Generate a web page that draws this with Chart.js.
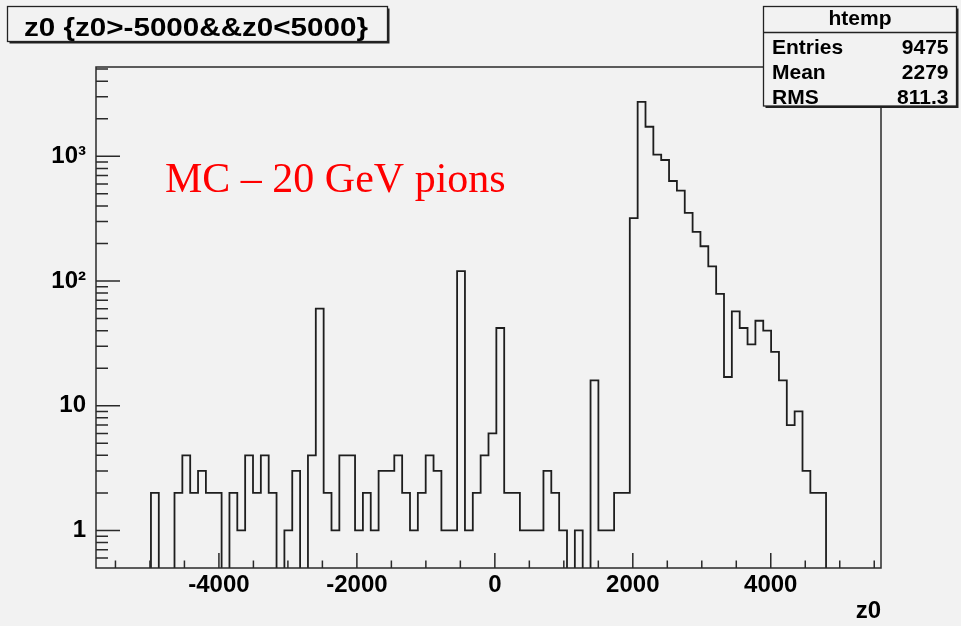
<!DOCTYPE html>
<html lang="en">
<head>
<meta charset="UTF-8">
<title>z0</title>
<script src="https://cdn.jsdelivr.net/npm/chart.js"></script>
<style>
  html, body { margin: 0; padding: 0; background: #f2f2f2; }
  canvas { display: block; }
</style>
</head>
<body>
<canvas id="histo" width="961" height="626"></canvas>
<script>
// htemp: z0 histogram, 100 bins (counts)
const xLow = -5782;
const binWidth = 113.8;
const nBins = 100;
const counts = [
  0, 0, 0, 0, 0, 0, 0, 2, 0, 0,
  2, 4, 2, 3, 2, 2, 0, 2, 1, 4,
  2, 4, 2, 0, 1, 3, 0, 4, 60, 2,
  1, 4, 4, 1, 2, 1, 3, 3, 4, 2,
  1, 2, 4, 3, 1, 1, 120, 1, 2, 4,
  6, 42, 2, 2, 1, 1, 1, 3, 2, 1,
  0, 1, 0, 16, 1, 1, 2, 2, 319, 2734,
  1725, 1030, 934, 634, 530, 352, 248, 190, 131, 79,
  17, 57, 42, 31, 48, 40, 27, 16, 7, 9,
  3, 2, 2, 0, 0, 0, 0, 0, 0, 0
];
const xLabelTicks = [-4000, -2000, 0, 2000, 4000];
const yLabels = { 1: '1', 10: '10', 100: '10²', 1000: '10³' };
const yMin = 0.5;
const yMax = 5200;

const titleText = 'z0 {z0>-5000&&z0<5000}';
const statsTitle = 'htemp';
const statsNames = ['Entries', 'Mean', 'RMS'];
const statsValues = ['9475', '2279', '811.3'];
const noteText = 'MC \u2013 20 GeV pions';

const bg = '#f2f2f2';
const sans = "'Liberation Sans', Arial, Helvetica, sans-serif";

// left edge of each bin + closing point, empty bins pushed below the axis
const points = counts.map((c, i) => ({ x: xLow + i * binWidth, y: c > 0 ? c : 1e-3 }));
points.push({ x: xLow + nBins * binWidth, y: 1e-3 });

function shadowBox(ctx, x, y, w, h) {
  ctx.fillStyle = '#222';
  ctx.fillRect(x + 2, y + 2, w, h);
  ctx.fillStyle = bg;
  ctx.fillRect(x, y, w, h);
  ctx.strokeStyle = '#222';
  ctx.lineWidth = 1.3;
  ctx.strokeRect(x, y, w, h);
}

const rootFrame = {
  id: 'rootFrame',
  afterDatasetsDraw(chart) {
    const { ctx, chartArea: a, scales: { x, y } } = chart;
    ctx.save();
    ctx.strokeStyle = '#2a2a2a';
    ctx.lineWidth = 1.5;
    ctx.strokeRect(a.left, a.top, a.right - a.left, a.bottom - a.top);
    ctx.beginPath();
    y.ticks.forEach(t => {
      const py = y.getPixelForValue(t.value);
      if (py < a.top + 1 || py > a.bottom - 1) return;
      const len = yLabels[t.value] !== undefined ? 24 : 12;
      ctx.moveTo(a.left, py);
      ctx.lineTo(a.left + len, py);
    });
    x.ticks.forEach(t => {
      const px = x.getPixelForValue(t.value);
      if (px < a.left + 1 || px > a.right - 1) return;
      const len = t.value % 2000 === 0 ? 15 : 7.5;
      ctx.moveTo(px, a.bottom);
      ctx.lineTo(px, a.bottom - len);
    });
    ctx.stroke();
    ctx.restore();
  },
  afterDraw(chart) {
    const ctx = chart.ctx;
    ctx.save();
    // title box
    shadowBox(ctx, 7.5, 6.5, 380, 35);
    ctx.fillStyle = '#000';
    ctx.font = 'bold 26px ' + sans;
    ctx.textBaseline = 'alphabetic';
    ctx.textAlign = 'left';
    const tw = ctx.measureText(titleText).width;
    ctx.save();
    ctx.translate(24, 35.5);
    ctx.scale(344 / tw, 1);
    ctx.fillText(titleText, 0, 0);
    ctx.restore();

    // stats box
    shadowBox(ctx, 763.5, 6.5, 193, 99.5);
    ctx.beginPath();
    ctx.moveTo(763.5, 32.5);
    ctx.lineTo(956.5, 32.5);
    ctx.stroke();
    ctx.fillStyle = '#000';
    ctx.font = 'bold 21px ' + sans;
    ctx.textAlign = 'center';
    ctx.fillText(statsTitle, 860, 25);
    const rows = [54, 79, 103.5];
    statsNames.forEach((n, i) => {
      ctx.textAlign = 'left';
      ctx.fillText(n, 772, rows[i]);
      ctx.textAlign = 'right';
      ctx.fillText(statsValues[i], 948.5, rows[i]);
    });

    // red note
    ctx.fillStyle = '#ff0000';
    ctx.font = "42px 'Liberation Serif', 'Times New Roman', serif";
    ctx.textAlign = 'left';
    ctx.fillText(noteText, 165, 191.5);
    ctx.restore();
  }
};

new Chart(document.getElementById('histo'), {
  type: 'line',
  data: {
    datasets: [{
      data: points,
      stepped: 'before',
      borderColor: '#1e1e1e',
      borderWidth: 1.8,
      pointRadius: 0,
      fill: false
    }]
  },
  options: {
    responsive: false,
    animation: false,
    layout: { padding: { top: 67, right: 80, left: 0, bottom: 0 } },
    plugins: { legend: { display: false }, tooltip: { enabled: false } },
    scales: {
      x: {
        type: 'linear',
        min: xLow,
        max: xLow + nBins * binWidth,
        grid: { display: false, drawTicks: false },
        border: { display: false },
        afterBuildTicks: s => {
          const t = [];
          for (let v = -5500; v <= 5500; v += 500) t.push({ value: v });
          s.ticks = t;
        },
        afterFit: s => { s.height = 58; },
        ticks: {
          autoSkip: false,
          maxRotation: 0,
          padding: 3,
          color: '#000',
          font: { family: sans, size: 24, weight: 'bold' },
          callback: v => xLabelTicks.includes(v) ? String(v) : ''
        },
        title: {
          display: true,
          text: 'z0',
          align: 'end',
          color: '#000',
          padding: 0,
          font: { family: sans, size: 24, weight: 'bold', lineHeight: 1.2 }
        }
      },
      y: {
        type: 'logarithmic',
        min: yMin,
        max: yMax,
        grid: { display: false, drawTicks: false },
        border: { display: false },
        afterBuildTicks: s => {
          const t = [];
          for (let d = 0.1; d <= 1000; d *= 10) {
            for (let m = 1; m <= 9; m++) {
              const v = Math.round(m * d * 1000) / 1000;
              if (v >= yMin && v <= yMax) t.push({ value: v });
            }
          }
          s.ticks = t;
        },
        afterFit: s => { s.width = 96; },
        ticks: {
          autoSkip: false,
          padding: 10,
          color: '#000',
          font: { family: sans, size: 24, weight: 'bold' },
          callback: v => yLabels[v] || ''
        }
      }
    }
  },
  plugins: [rootFrame]
});
</script>
</body>
</html>
